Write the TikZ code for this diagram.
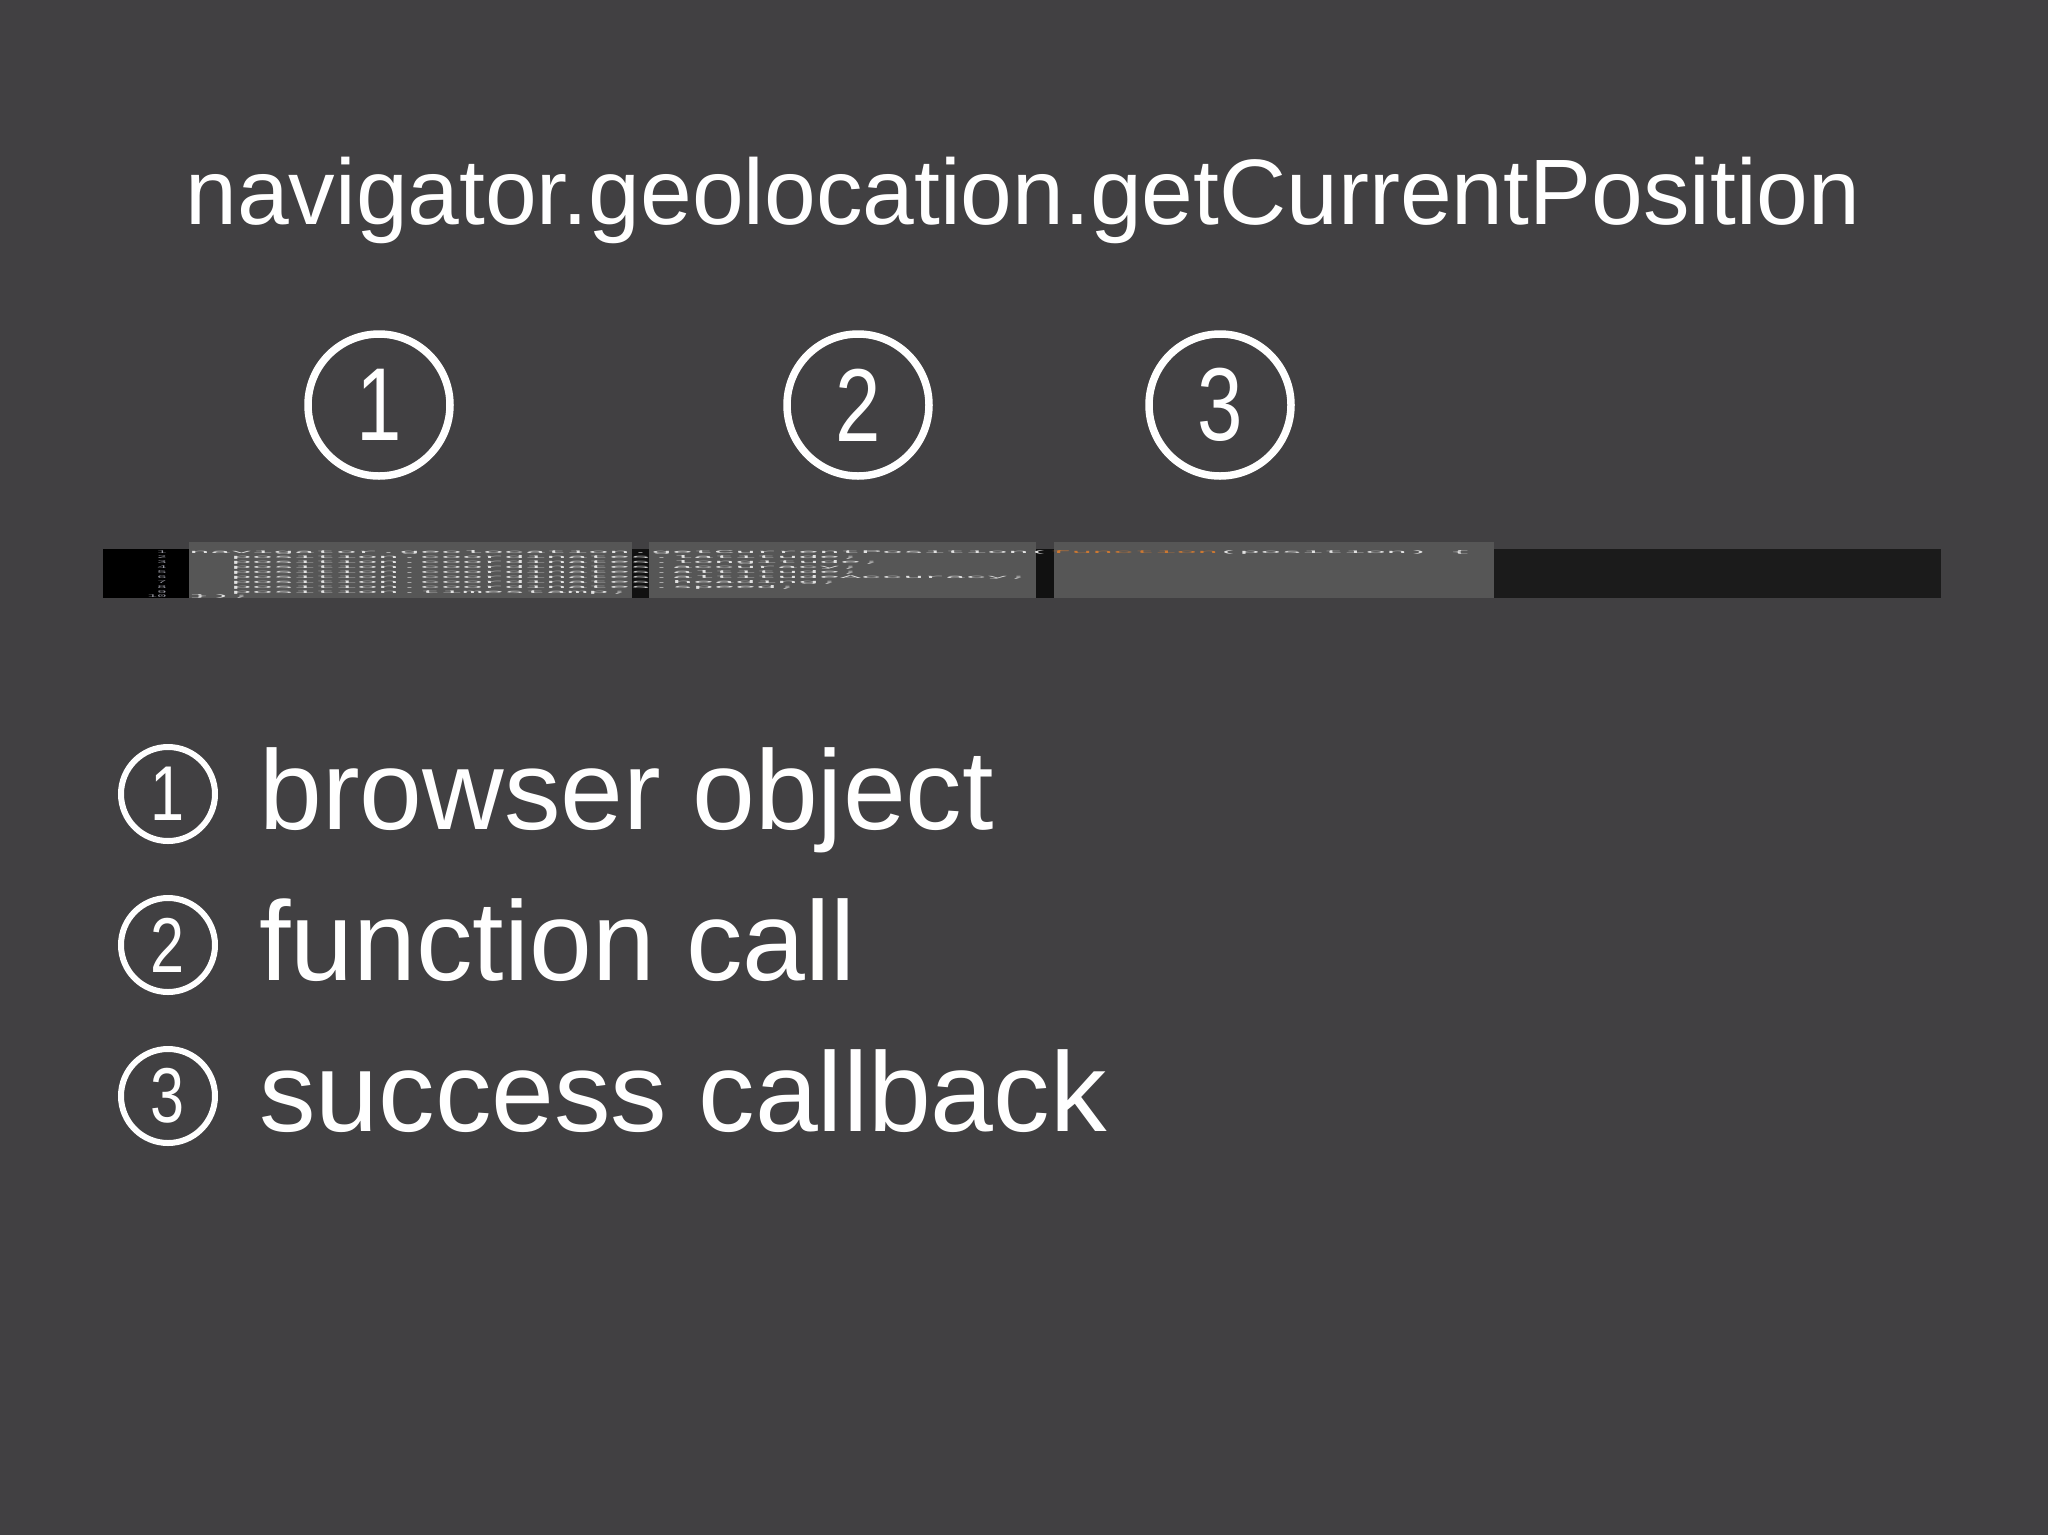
\documentclass[tikz,border=0pt]{standalone}
\usepackage{fontspec}
\setmainfont{Liberation Sans}
\newfontfamily\codefont{Liberation Mono}
\definecolor{bg}{RGB}{65,64,66}
\definecolor{codebg}{RGB}{27,27,27}
\definecolor{gapbg}{RGB}{17,17,17}
\definecolor{hl}{RGB}{86,86,86}
\definecolor{codetxt}{RGB}{225,225,225}
\definecolor{fnc}{RGB}{204,120,50}
\definecolor{lnum}{RGB}{150,150,160}
\newcommand{\cdigit}[1]{\scalebox{0.85}[1.08]{#1}}
\tikzset{
  bigcirc/.style={circle, draw=white, line width=7.5pt, minimum size=142pt, inner sep=0pt,
    text=white, font=\fontsize{96}{96}\selectfont},
  smallcirc/.style={circle, draw=white, line width=6pt, minimum size=94pt, inner sep=0pt,
    text=white, font=\fontsize{72}{72}\selectfont},
  listtext/.style={anchor=base west, inner sep=0pt, text=white, font=\fontsize{113}{113}\selectfont},
  titletext/.style={anchor=base, inner sep=0pt, text=white, font=\fontsize{93}{93}\selectfont},
  codeblk/.style={inner sep=0pt, text=codetxt}
}
\begin{document}
\begin{tikzpicture}[x=1pt,y=-1pt]
\fill[bg] (0,0) rectangle (2048,1535);
\useasboundingbox (0,0) rectangle (2048,1535);

% title
\node[titletext] (title) at (1023,224) {navigator.geolocation.getCurrentPosition};

% big circled numbers
\node[bigcirc] (c1) at (379,405) {\cdigit{1}};
\node[bigcirc] (c2) at (858,405) {\cdigit{2}};
\node[bigcirc] (c3) at (1220,405) {\cdigit{3}};

% code strip
\fill[black] (103,549) rectangle (189,598);
\fill[codebg] (189,549) rectangle (1941,598);
\fill[gapbg] (632,549) rectangle (649,598);
\fill[gapbg] (1036,549) rectangle (1054,598);
\fill[hl] (189,542) rectangle (632,598);
\fill[hl] (649,542) rectangle (1036,598);
\fill[hl] (1054,542) rectangle (1494,598);

\node[codeblk, anchor=north east, text=lnum] (lines) at (167,550)
  {\scalebox{1.6}[0.41]{\codefont\fontsize{10}{12}\selectfont
   \begin{tabular}{@{}r@{}}1\\2\\3\\4\\5\\6\\7\\8\\9\\10\end{tabular}}};
\node[codeblk, anchor=north west] (code) at (189,550)
  {\scalebox{3.5}[0.41]{\codefont\fontsize{10}{12}\selectfont
   \begin{tabular}{@{}l@{}}
   navigator.geolocation.getCurrentPosition(\textcolor{fnc}{function}(position) \{\\
   \phantom{xx}position.coordinates.latitude;\\
   \phantom{xx}position.coordinates.longitude;\\
   \phantom{xx}position.coordinates.accuracy;\\
   \phantom{xx}position.coordinates.altitude;\\
   \phantom{xx}position.coordinates.altitudeAccuracy;\\
   \phantom{xx}position.coordinates.heading;\\
   \phantom{xx}position.coordinates.speed;\\
   \phantom{xx}position.timestamp;\\
   \});
   \end{tabular}}};

% legend
\node[smallcirc] (s1) at (168,794) {\cdigit{1}};
\node[listtext] (t1) at (259,829) {browser object};
\node[smallcirc] (s2) at (168,945) {\cdigit{2}};
\node[listtext] (t2) at (259,980) {function call};
\node[smallcirc] (s3) at (168,1096) {\cdigit{3}};
\node[listtext] (t3) at (259,1131) {success callback};
\end{tikzpicture}
\end{document}
